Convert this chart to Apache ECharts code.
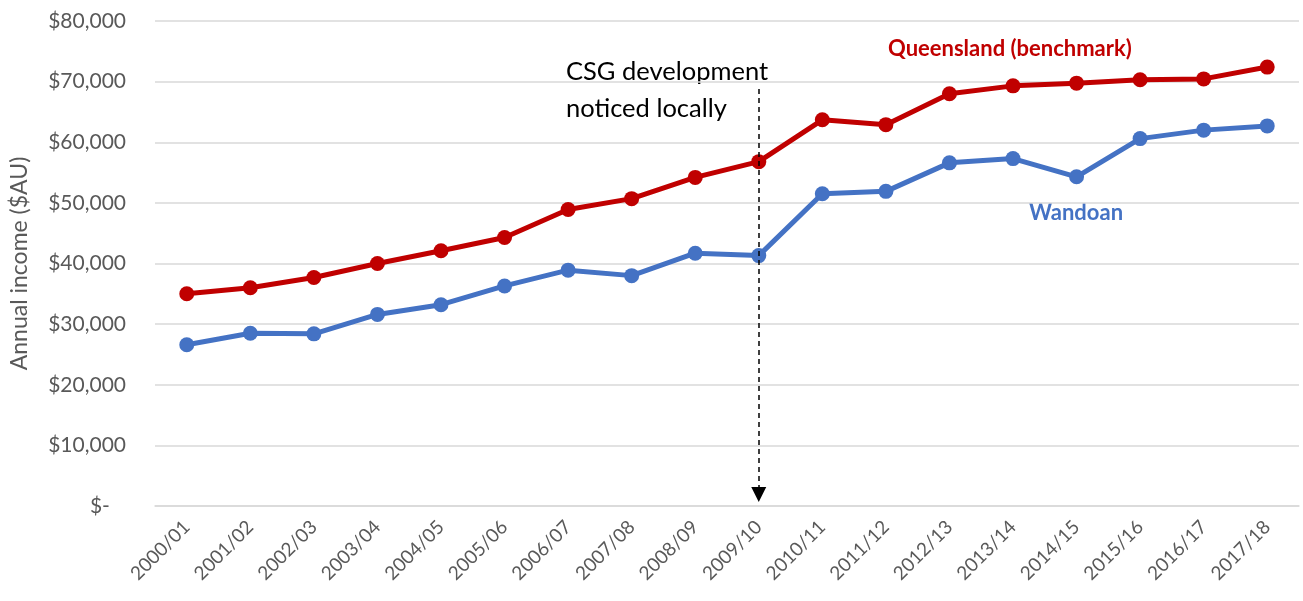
<!DOCTYPE html>
<html>
<head>
<meta charset="utf-8">
<script src="https://cdn.jsdelivr.net/npm/echarts@6/dist/echarts.min.js"></script>
<style>
  html, body { margin: 0; padding: 0; background: #fff; }
  #main { width: 1303px; height: 601px; }
</style>
</head>
<body>
<div id="main"></div>
<script>
var years = ['2000/01', '2001/02', '2002/03', '2003/04', '2004/05', '2005/06', '2006/07', '2007/08', '2008/09',
    '2009/10', '2010/11', '2011/12', '2012/13', '2013/14', '2014/15', '2015/16', '2016/17', '2017/18'];
var queensland = [35000, 36000, 37700, 40000, 42100, 44300, 48900, 50700, 54200,
    56800, 63700, 62900, 68000, 69300, 69750, 70300, 70450, 72400];
var wandoan = [26600, 28500, 28400, 31600, 33200, 36300, 38900, 38000, 41700,
    41300, 51500, 51900, 56600, 57300, 54300, 60600, 62000, 62700];
var yTicks = [0, 80000, 10000];   // min, max, step
var csgYear = '2009/10';

var font = 'Lato';
var myChart = echarts.init(document.getElementById('main'));

var option = {
    animation: false,
    textStyle: { fontFamily: font },
    grid: { left: 155, right: 4, top: 21, bottom: 95, outerBoundsMode: 'none' },
    xAxis: {
        type: 'category',
        data: years,
        boundaryGap: true,
        axisLine: { lineStyle: { color: '#d9d9d9', width: 1.5 } },
        axisTick: { show: false },
        axisLabel: { rotate: 45, color: '#595959', fontSize: 19, fontFamily: font, margin: 18 }
    },
    yAxis: {
        type: 'value',
        min: yTicks[0],
        max: yTicks[1],
        interval: yTicks[2],
        name: 'Annual income ($AU)',
        nameLocation: 'middle',
        nameGap: 124,
        nameTextStyle: { color: '#595959', fontSize: 23, fontFamily: font },
        axisLine: { show: false },
        axisTick: { show: false },
        splitLine: { lineStyle: { color: '#d9d9d9', width: 1.5 } },
        axisLabel: {
            color: '#595959', fontSize: 21, fontFamily: font, margin: 29,
            formatter: function (v) {
                return v === 0 ? '$-   ' : '$' + v.toLocaleString('en-US');
            }
        }
    },
    series: [{
        name: 'Queensland (benchmark)',
        type: 'line',
        data: queensland,
        color: '#c00000',
        lineStyle: { width: 5 },
        symbol: 'circle',
        symbolSize: 15,
        z: 3
    }, {
        name: 'Wandoan',
        type: 'line',
        data: wandoan,
        color: '#4472c4',
        lineStyle: { width: 5 },
        symbol: 'circle',
        symbolSize: 15,
        z: 2,
        markLine: {
            silent: true,
            symbol: ['none', 'triangle'],
            symbolSize: [15, 15],
            label: { show: false },
            lineStyle: { color: '#000', type: [5, 4], width: 1.5 },
            data: [[
                { coord: [csgYear, 68800] },
                { coord: [csgYear, 1900] }
            ]]
        }
    }],
    graphic: [{
        type: 'text',
        left: 566, top: 53,
        style: { text: 'CSG development\nnoticed locally', fill: '#000', fontSize: 25.5, fontFamily: font, lineHeight: 37 }
    }, {
        type: 'text',
        left: 888, top: 38,
        style: { text: 'Queensland (benchmark)', fill: '#c00000', fontSize: 22, fontWeight: 'bold', fontFamily: font }
    }, {
        type: 'text',
        left: 1029, top: 202,
        style: { text: 'Wandoan', fill: '#4472c4', fontSize: 22, fontWeight: 'bold', fontFamily: font }
    }]
};
myChart.setOption(option);
</script>
</body>
</html>
